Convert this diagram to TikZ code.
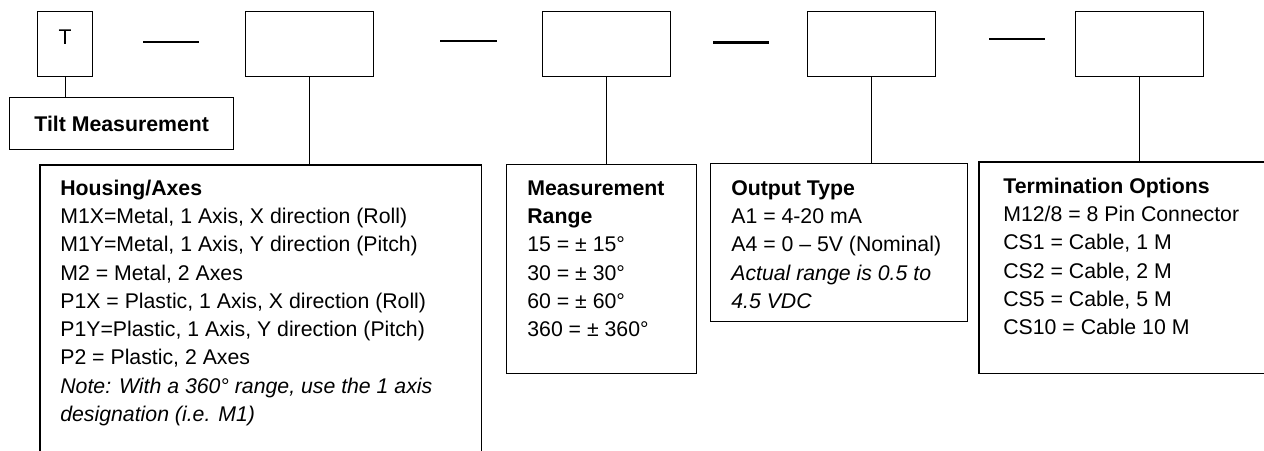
\documentclass[tikz,border=0pt]{standalone}
\usepackage{fontspec}
\setmainfont{Liberation Sans}
\usepackage{tikz}
\usetikzlibrary{calc}
\definecolor{ink}{HTML}{000000}
\tikzset{
  line/.style={draw=ink, line width=0.8pt},
  dashline/.style={draw=ink, line width=1.7pt},
  codebox/.style={draw=ink, line width=0.8pt, minimum width=2.56cm, minimum height=1.30cm, inner sep=0pt, anchor=north west},
  infobox/.style={draw=ink, line width=0.8pt, inner sep=0pt, anchor=north west},
  lbl/.style={text=ink, font=\fontsize{12.1}{16.1}\selectfont, inner sep=0pt, align=left, anchor=north west}
}
\begin{document}
\begin{tikzpicture}
  \useasboundingbox (0,0) rectangle (25.28,-9.0);

  \node[codebox, minimum width=1.10cm] (T) at (0.74,-0.22) {};
  \node[codebox] (hsg) at (4.90,-0.22) {};
  \node[codebox] (rng) at (10.84,-0.22) {};
  \node[codebox] (out) at (16.14,-0.22) {};
  \node[codebox] (term) at (21.50,-0.22) {};
  \node[lbl, anchor=base] (Tlbl) at ($(T.north)+(0,-0.66)$) {T};

  \draw[dashline] (2.86,-0.84) -- (3.98,-0.84);
  \draw[dashline] (8.80,-0.82) -- (9.94,-0.82);
  \draw[dashline] (14.26,-0.85) -- (15.38,-0.85);
  \draw[dashline] (19.78,-0.78) -- (20.90,-0.78);

  \node[infobox, minimum width=4.48cm, minimum height=1.04cm, font=\fontsize{12.1}{16.1}\selectfont\bfseries] (tilt) at (0.18,-1.94) {Tilt Measurement\hspace{0.18cm}};

  \node[infobox, draw=none, minimum width=8.80cm, minimum height=5.80cm] (hsgbox) at (0.80,-3.30) {};
  \draw[line] (hsgbox.south west) -- (hsgbox.north west) -- (hsgbox.north east) -- (hsgbox.south east);
  \node[infobox, minimum width=3.80cm, minimum height=4.18cm] (rngbox) at (10.12,-3.28) {};
  \node[infobox, minimum width=5.14cm, minimum height=3.16cm] (outbox) at (14.20,-3.26) {};
  \node[infobox, draw=none, minimum width=5.80cm, minimum height=4.20cm] (termbox) at (19.58,-3.24) {};
  \draw[line] (termbox.north east) -- (termbox.north west) -- (termbox.south west) -- (termbox.south east);

  \draw[line] (T.south) -- (T.south |- tilt.north);
  \draw[line] (hsg.south) -- (hsg.south |- hsgbox.north);
  \draw[line] (rng.south) -- (rng.south |- rngbox.north);
  \draw[line] (out.south) -- (out.south |- outbox.north);
  \draw[line] (term.south) -- (term.south |- termbox.north);

  \node[lbl] (hsgtxt) at (1.20,-3.50) {\strut\textbf{Housing/Axes}\\
    M1X=Metal, 1 Axis, X direction (Roll)\\
    M1Y=Metal, 1 Axis, Y direction (Pitch)\\
    M2 = Metal, 2 Axes\\
    P1X = Plastic, 1 Axis, X direction (Roll)\\
    P1Y=Plastic, 1 Axis, Y direction (Pitch)\\
    P2 = Plastic, 2 Axes\\
    \textit{Note: With a 360° range, use the 1 axis}\\
    \textit{designation (i.e. M1)}};
  \node[lbl] (rngtxt) at (10.54,-3.50) {\strut\textbf{Measurement}\\
    \textbf{Range}\\
    15 = ± 15°\\
    30 = ± 30°\\
    60 = ± 60°\\
    360 = ± 360°};
  \node[lbl] (outtxt) at (14.62,-3.50) {\strut\textbf{Output Type}\\
    A1 = 4-20 mA\\
    A4 = 0 – 5V (Nominal)\\
    \textit{Actual range is 0.5 to}\\
    \textit{4.5 VDC}};
  \node[lbl] (termtxt) at (20.06,-3.46) {\strut\textbf{Termination Options}\\
    M12/8 = 8 Pin Connector\\
    CS1 = Cable, 1 M\\
    CS2 = Cable, 2 M\\
    CS5 = Cable, 5 M\\
    CS10 = Cable 10 M};
\end{tikzpicture}
\end{document}
